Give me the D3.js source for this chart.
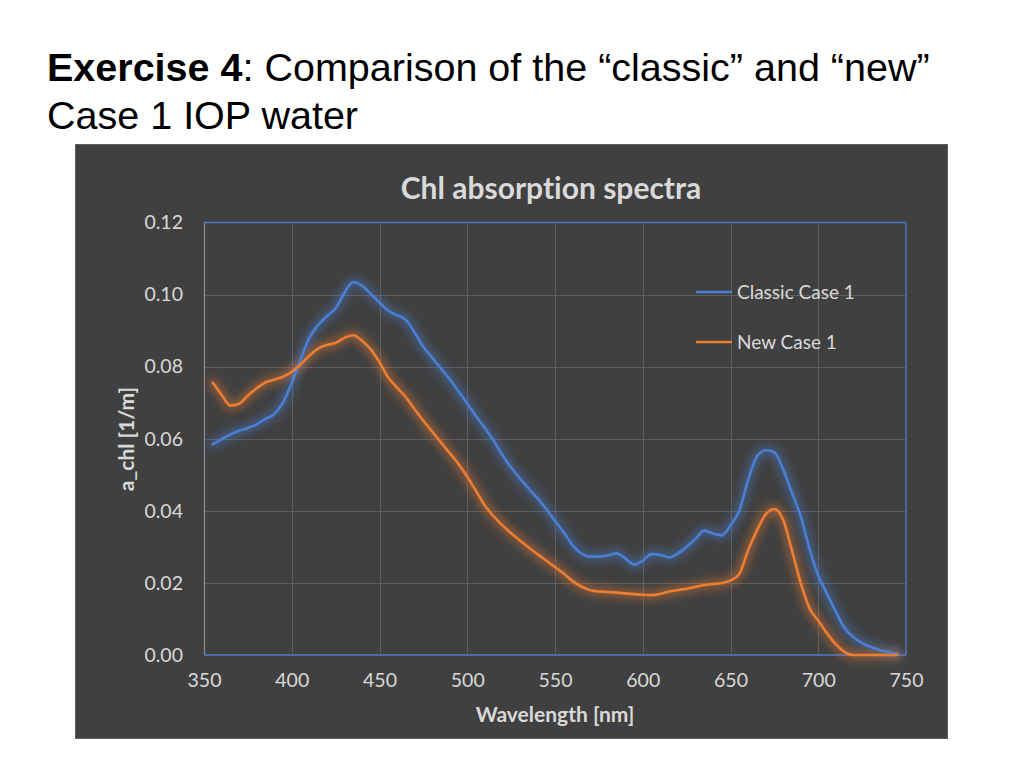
<!DOCTYPE html>
<html>
<head>
<meta charset="utf-8">
<script src="https://cdn.jsdelivr.net/npm/d3@7"></script>
<style>
  html, body { margin: 0; padding: 0; background: #ffffff; }
  svg { display: block; }
  text { font-variant-ligatures: none; }
</style>
</head>
<body>
<svg id="chart" width="1024" height="768"></svg>
<script>
// ---------------- DATA ----------------
const wavelengths = [355,360,365,370,375,380,385,390,395,400,405,410,415,420,425,430,435,440,445,450,
  455,460,465,470,475,480,485,490,495,500,505,510,515,520,525,530,535,540,545,550,
  555,560,565,570,575,580,585,590,595,600,605,610,615,620,625,630,635,640,645,650,
  655,660,665,670,675,680,685,690,695,700,705,710,715,720,725,730,735,740,745];

const classicCase1 = [0.0585,0.0598,0.0612,0.0622,0.0630,0.0640,0.0655,0.0668,0.0700,0.0755,0.0820,0.0880,0.0915,0.0940,0.0962,0.1005,0.1035,0.1025,0.1002,0.0978,
  0.0955,0.0943,0.0930,0.0895,0.0855,0.0825,0.0795,0.0765,0.0732,0.0698,0.0663,0.0630,0.0595,0.0555,0.0520,0.0490,0.0462,0.0435,0.0405,0.0372,
  0.0340,0.0305,0.0282,0.0273,0.0273,0.0276,0.0282,0.0268,0.0251,0.0262,0.0280,0.0278,0.0271,0.0282,0.0300,0.0322,0.0345,0.0337,0.0332,0.0360,
  0.0400,0.0485,0.0550,0.0568,0.0562,0.0515,0.0450,0.0385,0.0295,0.0220,0.0170,0.0120,0.0075,0.0050,0.0033,0.0022,0.0014,0.0008,0.0004];

const newCase1 = [0.0756,0.0722,0.0692,0.0697,0.0720,0.0740,0.0756,0.0764,0.0772,0.0786,0.0806,0.0830,0.0850,0.0860,0.0866,0.0880,0.0887,0.0872,0.0848,0.0812,
  0.0770,0.0742,0.0715,0.0682,0.0650,0.0620,0.0590,0.0560,0.0530,0.0495,0.0455,0.0415,0.0385,0.0360,0.0338,0.0318,0.0298,0.0280,0.0262,0.0244,
  0.0226,0.0205,0.0190,0.0180,0.0176,0.0175,0.0173,0.0171,0.0169,0.0167,0.0166,0.0170,0.0176,0.0180,0.0184,0.0189,0.0194,0.0197,0.0200,0.0207,
  0.0225,0.0290,0.0345,0.0390,0.0405,0.0375,0.0290,0.0200,0.0130,0.0095,0.0060,0.0030,0.0008,0,0,0,0,0,0];

const seriesNames = ["Classic Case 1", "New Case 1"];
const xTicks = [350,400,450,500,550,600,650,700,750];
const yTicks = [0,0.02,0.04,0.06,0.08,0.10,0.12];

const slideTitleBold = "Exercise 4";
const slideTitleRest = ": Comparison of the \u201cclassic\u201d and \u201cnew\u201d";
const slideTitleLine2 = "Case 1 IOP water";
const chartTitle = "Chl absorption spectra";
const xAxisTitle = "Wavelength [nm]";
const yAxisTitle = "a_chl  [1/m]";

// ---------------- LAYOUT ----------------
const svg = d3.select("#chart");
const colors = ["#4a7fd4", "#ed7d31"];
const textColor = "#d9d9d9";
const chartFont = "Lato, 'Open Sans', sans-serif";

const plot = {left: 204, right: 906, top: 222.5, bottom: 655};
const x = d3.scaleLinear().domain([350, 750]).range([plot.left, plot.right]);
const y = d3.scaleLinear().domain([0, 0.12]).range([plot.bottom, plot.top]);

// Slide title
const t1 = svg.append("text")
  .attr("x", 47).attr("y", 81)
  .attr("font-family", "'Liberation Sans', Arial, sans-serif")
  .attr("font-size", 39.5).attr("fill", "#000");
t1.append("tspan").attr("font-weight", "bold").text(slideTitleBold);
t1.append("tspan").text(slideTitleRest);
svg.append("text")
  .attr("x", 47).attr("y", 129)
  .attr("font-family", "'Liberation Sans', Arial, sans-serif")
  .attr("font-size", 39.5).attr("fill", "#000")
  .text(slideTitleLine2);

// Panel
svg.append("rect")
  .attr("x", 75.5).attr("y", 144.5).attr("width", 872).attr("height", 594)
  .attr("fill", "#404040").attr("stroke", "#5c5c5c").attr("stroke-width", 1);

// Glow filter
const defs = svg.append("defs");
defs.append("filter").attr("id", "soft")
  .attr("x", "-10%").attr("y", "-20%").attr("width", "120%").attr("height", "140%")
  .append("feGaussianBlur").attr("stdDeviation", 4);

// Gridlines
const g = svg.append("g");
g.selectAll("line.vg").data(xTicks.filter(d => d > 350 && d < 750)).join("line")
  .attr("class", "vg")
  .attr("x1", d => Math.round(x(d)) + 0.5).attr("x2", d => Math.round(x(d)) + 0.5)
  .attr("y1", plot.top).attr("y2", plot.bottom)
  .attr("stroke", "#5e5e5e").attr("stroke-width", 1);
g.selectAll("line.hg").data(yTicks.filter(d => d > 0 && d < 0.12)).join("line")
  .attr("class", "hg")
  .attr("y1", d => Math.round(y(d)) + 0.5).attr("y2", d => Math.round(y(d)) + 0.5)
  .attr("x1", plot.left).attr("x2", plot.right)
  .attr("stroke", "#5e5e5e").attr("stroke-width", 1);

// Plot border: left gray, others blue
svg.append("line").attr("x1", plot.left + 0.5).attr("x2", plot.left + 0.5)
  .attr("y1", plot.top).attr("y2", plot.bottom).attr("stroke", "#8b8f9c").attr("stroke-width", 1.2);
[[plot.left, plot.top, plot.right, plot.top],
 [plot.right, plot.top, plot.right, plot.bottom],
 [plot.left, plot.bottom, plot.right, plot.bottom]].forEach(s => {
  svg.append("line").attr("x1", s[0]).attr("y1", s[1]).attr("x2", s[2]).attr("y2", s[3])
    .attr("stroke", "#4f78c8").attr("stroke-width", 1.3);
});

// Axes (labels only)
const xAxis = d3.axisBottom(x).tickValues(xTicks).tickSize(0).tickPadding(18).tickFormat(d3.format("d"));
const yAxis = d3.axisLeft(y).tickValues(yTicks).tickSize(0).tickPadding(21).tickFormat(d3.format(".2f"));
const gx = svg.append("g").attr("transform", `translate(0,${plot.bottom})`).call(xAxis);
const gy = svg.append("g").attr("transform", `translate(${plot.left},0)`).call(yAxis);
[gx, gy].forEach(a => {
  a.select(".domain").remove();
  a.selectAll("text").attr("fill", textColor).attr("font-size", 19.5).attr("font-family", chartFont);
});

// Titles
svg.append("text").attr("x", 551).attr("y", 199).attr("text-anchor", "middle")
  .attr("font-family", chartFont).attr("font-weight", "bold").attr("font-size", 30)
  .attr("fill", textColor).text(chartTitle);
svg.append("text").attr("x", 555).attr("y", 722).attr("text-anchor", "middle")
  .attr("font-family", chartFont).attr("font-weight", "bold").attr("font-size", 21)
  .attr("fill", textColor).text(xAxisTitle);
svg.append("text").attr("transform", "translate(134,439) rotate(-90)").attr("text-anchor", "middle")
  .attr("font-family", chartFont).attr("font-weight", "bold").attr("font-size", 21)
  .attr("fill", textColor).text(yAxisTitle);

// Lines with glow
const series = [classicCase1, newCase1];
const line = d3.line().x((d, i) => x(wavelengths[i])).y(d => y(d)).curve(d3.curveMonotoneX);
series.forEach((vals, i) => {
  svg.append("path").datum(vals)
    .attr("d", line)
    .attr("fill", "none").attr("stroke", colors[i]).attr("stroke-width", 9)
    .attr("stroke-opacity", 0.45)
    .attr("stroke-linejoin", "round").attr("stroke-linecap", "round")
    .attr("filter", "url(#soft)");
});
series.forEach((vals, i) => {
  svg.append("path").datum(vals)
    .attr("d", line)
    .attr("fill", "none").attr("stroke", colors[i]).attr("stroke-width", 2.6)
    .attr("stroke-linejoin", "round").attr("stroke-linecap", "round");
});

// Legend
const legendY = [292, 342];
seriesNames.forEach((name, i) => {
  svg.append("line").attr("x1", 696).attr("x2", 732).attr("y1", legendY[i]).attr("y2", legendY[i])
    .attr("stroke", colors[i]).attr("stroke-width", 2.6);
  svg.append("text").attr("x", 737).attr("y", legendY[i]).attr("dy", "0.35em")
    .attr("font-family", chartFont).attr("font-size", 19).attr("fill", textColor).text(name);
});
</script>
</body>
</html>
